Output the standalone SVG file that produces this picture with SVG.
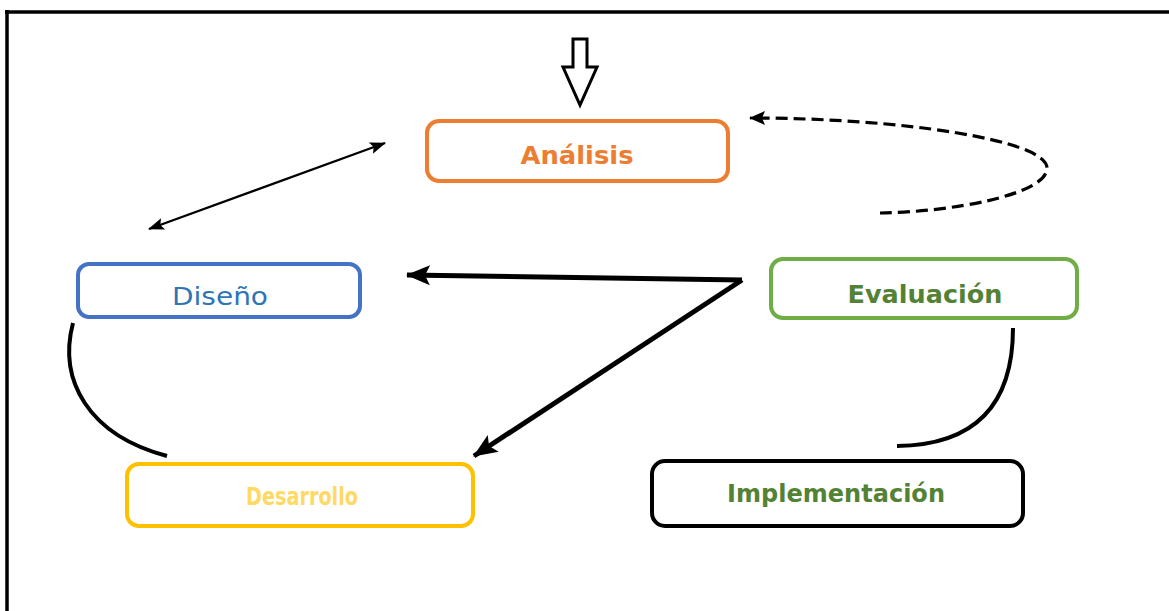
<svg xmlns="http://www.w3.org/2000/svg" width="1169" height="611" viewBox="0 0 1169 611">
<style>
.box{fill:#fff;stroke-width:4}
.lbl{font-family:"DejaVu Sans","Liberation Sans",sans-serif;font-size:25px;text-anchor:middle}
.b{font-weight:bold}
.conn{fill:none;stroke:#000}
</style>
<defs>
<marker id="ahs" refX="15" refY="6" markerWidth="16" markerHeight="12" markerUnits="userSpaceOnUse" orient="auto-start-reverse" overflow="visible">
<path d="M0,0 L16,6 L0,12 L3,6 z" fill="#000"/>
</marker>
<marker id="ahd" refX="23" refY="10" markerWidth="24" markerHeight="20" markerUnits="userSpaceOnUse" orient="auto" overflow="visible">
<path d="M0,0 L24,10 L0,20 L5,10 z" fill="#000"/>
</marker>
<marker id="ahm" refX="15" refY="7" markerWidth="16" markerHeight="14" markerUnits="userSpaceOnUse" orient="auto" overflow="visible">
<path d="M0,0 L16,7 L0,14 L3,7 z" fill="#000"/>
</marker>
</defs>
<rect width="1169" height="611" fill="#fff"/>
<g id="frame" stroke="#000" stroke-width="3.5" fill="none">
<path d="M7,611 L7,10"/>
<path d="M5,12 L1169,12"/>
</g>
<g id="start-arrow">
<path d="M573,39 L587,39 L587,67 L597,67 L580,105 L563,67 L573,67 z" fill="#fff" stroke="#000" stroke-width="3" stroke-linejoin="miter"/>
</g>
<g id="connectors">
<line class="conn" x1="149" y1="229" x2="385" y2="143" stroke-width="2.2" marker-start="url(#ahs)" marker-end="url(#ahs)"/>
<path class="conn" d="M742,280 L407,275" stroke-width="5" marker-end="url(#ahd)"/>
<path class="conn" d="M742,280 L474,456" stroke-width="5" marker-end="url(#ahd)"/>
<path class="conn" d="M880,213 C950,212 1047,195 1047,168 C1047,140 900,118 750,118" stroke-width="3.2" stroke-dasharray="12,6" marker-end="url(#ahm)"/>
<path class="conn" d="M73,323 C58,380 88,435 167,456" stroke-width="4"/>
<path class="conn" d="M1013,328 C1013,400 980,445 897,446" stroke-width="4"/>
</g>
<g id="analisis">
<rect class="box" x="427" y="121" width="301" height="60" rx="12" stroke="#ED7D31"/>
<text class="lbl b" x="577" y="164" fill="#ED7D31" textLength="113" lengthAdjust="spacingAndGlyphs">Análisis</text>
</g>
<g id="diseno">
<rect class="box" x="78" y="264" width="282" height="53" rx="11" stroke="#4472C4"/>
<text class="lbl" x="220" y="305" fill="#2E75B6" textLength="96" lengthAdjust="spacingAndGlyphs">Diseño</text>
</g>
<g id="evaluacion">
<rect class="box" x="771" y="259" width="306" height="59" rx="12" stroke="#70AD47"/>
<text class="lbl b" x="925" y="303" fill="#548235" textLength="155" lengthAdjust="spacingAndGlyphs">Evaluación</text>
</g>
<g id="desarrollo">
<rect class="box" x="127" y="464" width="346" height="62" rx="12" stroke="#FFC000"/>
<text class="lbl b" x="302" y="505" fill="#FFD966" textLength="112" lengthAdjust="spacingAndGlyphs">Desarrollo</text>
</g>
<g id="implementacion">
<rect class="box" x="652" y="461" width="371" height="65" rx="13" stroke="#000"/>
<text class="lbl b" x="836" y="502" fill="#548235" textLength="218" lengthAdjust="spacingAndGlyphs">Implementación</text>
</g>
</svg>
